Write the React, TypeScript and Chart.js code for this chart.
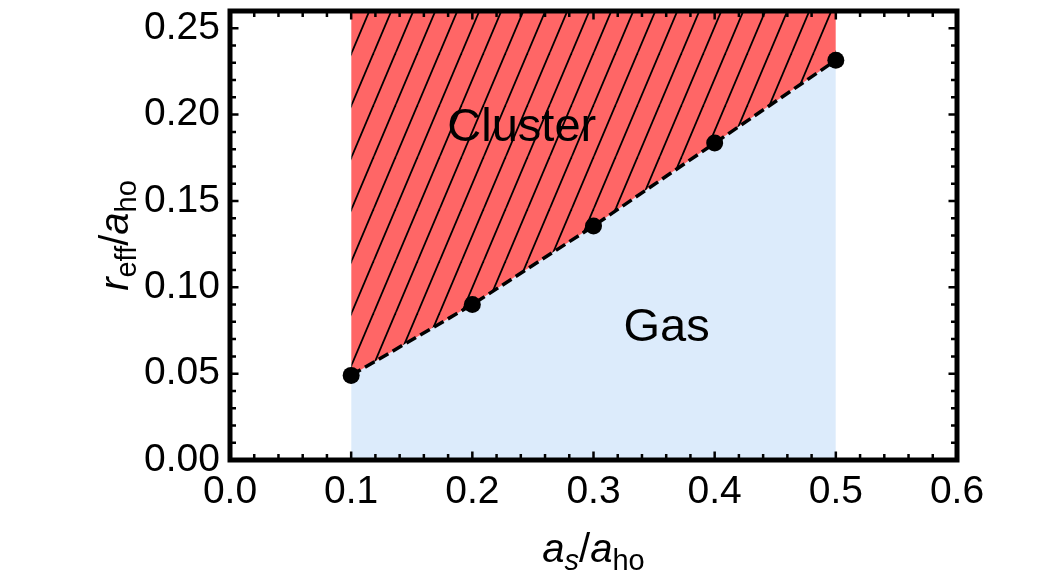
import React, { useEffect, useRef } from 'react';
import { Chart, registerables } from 'chart.js';

Chart.register(...registerables);

// ---- data ----
const AS_VALUES = [0.1, 0.2, 0.3, 0.4, 0.5];
const REFF_VALUES = [0.049, 0.09, 0.1355, 0.1835, 0.2315];
const X_TICKS = [0, 0.1, 0.2, 0.3, 0.4, 0.5, 0.6];
const Y_TICKS = [0, 0.05, 0.1, 0.15, 0.2, 0.25];
const X_MINOR_STEP = 0.02;
const Y_MINOR_STEP = 0.01;
const REGION_LABELS = ['Cluster', 'Gas'];
const REGION_X = [0.2408, 0.3603];
const REGION_Y = [0.1847, 0.0689];

const FONT = "'Liberation Sans', Arial, Helvetica, sans-serif";
const RED = '#FF6666';
const BLUE = '#DCEBFB';

function makeHatch(): CanvasPattern | string {
  const W = 22;
  const H = 52;
  const c = document.createElement('canvas');
  c.width = W;
  c.height = H;
  const g = c.getContext('2d');
  if (!g) return RED;
  g.fillStyle = RED;
  g.fillRect(0, 0, W, H);
  g.strokeStyle = '#000';
  g.lineWidth = 1.8;
  for (const s of [-W, 0, W]) {
    g.beginPath();
    g.moveTo(s, H);
    g.lineTo(s + W, 0);
    g.stroke();
  }
  return g.createPattern(c, 'repeat') || RED;
}

type Seg = { t: string; italic?: boolean; sub?: boolean };

function drawSegs(ctx: CanvasRenderingContext2D, segs: Seg[], cx: number, baseY: number) {
  const main = 40;
  const subSize = 29;
  const fontOf = (s: Seg) => `${s.italic ? 'italic ' : ''}${s.sub ? subSize : main}px ${FONT}`;
  let total = 0;
  const widths = segs.map((s) => {
    ctx.font = fontOf(s);
    const w = ctx.measureText(s.t).width;
    total += w;
    return w;
  });
  let x = cx - total / 2;
  ctx.textAlign = 'left';
  ctx.textBaseline = 'alphabetic';
  ctx.fillStyle = '#000';
  segs.forEach((s, i) => {
    ctx.font = fontOf(s);
    ctx.fillText(s.t, x, s.sub ? baseY + 8 : baseY);
    x += widths[i];
  });
}

const framePlugin = {
  id: 'framePlugin',
  afterDraw(chart: any) {
    const { ctx, chartArea } = chart;
    const xs = chart.scales.x;
    const ys = chart.scales.y;
    const { left, right, top, bottom } = chartArea;
    ctx.save();
    ctx.strokeStyle = '#000';
    // ticks
    ctx.lineWidth = 2.5;
    const xMin = xs.min, xMax = xs.max, yMin = ys.min, yMax = ys.max;
    const nx = Math.round((xMax - xMin) / X_MINOR_STEP);
    for (let i = 0; i <= nx; i++) {
      const v = xMin + i * X_MINOR_STEP;
      const major = i % 5 === 0;
      const len = major ? 8.5 : 6;
      const px = xs.getPixelForValue(v);
      ctx.beginPath();
      ctx.moveTo(px, bottom);
      ctx.lineTo(px, bottom - len);
      ctx.moveTo(px, top);
      ctx.lineTo(px, top + len);
      ctx.stroke();
    }
    const ny = Math.floor((yMax - yMin) / Y_MINOR_STEP + 1e-6);
    for (let i = 0; i <= ny; i++) {
      const v = yMin + i * Y_MINOR_STEP;
      const major = i % 5 === 0;
      const len = major ? 8.5 : 6;
      const py = ys.getPixelForValue(v);
      ctx.beginPath();
      ctx.moveTo(left, py);
      ctx.lineTo(left + len, py);
      ctx.moveTo(right, py);
      ctx.lineTo(right - len, py);
      ctx.stroke();
    }
    // frame
    ctx.lineWidth = 5;
    ctx.strokeRect(left, top, right - left, bottom - top);

    // region labels
    ctx.fillStyle = '#000';
    ctx.font = `47px ${FONT}`;
    ctx.textAlign = 'center';
    ctx.textBaseline = 'alphabetic';
    REGION_LABELS.forEach((lab, i) => {
      ctx.fillText(lab, xs.getPixelForValue(REGION_X[i]), ys.getPixelForValue(REGION_Y[i]));
    });

    // axis titles
    const cx = (left + right) / 2;
    drawSegs(
      ctx,
      [
        { t: 'a', italic: true },
        { t: 's', italic: true, sub: true },
        { t: '/' },
        { t: 'a', italic: true },
        { t: 'ho', sub: true },
      ],
      cx,
      562
    );
    const cy = (top + bottom) / 2;
    ctx.translate(128, cy);
    ctx.rotate(-Math.PI / 2);
    drawSegs(
      ctx,
      [
        { t: 'r', italic: true },
        { t: 'eff', sub: true },
        { t: '/' },
        { t: 'a', italic: true },
        { t: 'ho', sub: true },
      ],
      0,
      0
    );
    ctx.restore();
  },
};

export default function App() {
  const ref = useRef<HTMLCanvasElement | null>(null);
  useEffect(() => {
    if (!ref.current) return;
    const pts = AS_VALUES.map((x, i) => ({ x, y: REFF_VALUES[i] }));
    const chart = new Chart(ref.current, {
      type: 'line',
      data: {
        datasets: [
          {
            label: 'boundary',
            data: pts,
            borderColor: '#000',
            borderWidth: 3.5,
            borderDash: [11, 5],
            pointRadius: 8.5,
            pointBackgroundColor: '#000',
            pointBorderColor: '#000',
            pointBorderWidth: 0,
            fill: false,
            order: 0,
          },
          {
            label: 'Cluster',
            data: pts,
            borderColor: 'rgba(0,0,0,0)',
            borderWidth: 0,
            pointRadius: 0,
            fill: 'end',
            backgroundColor: makeHatch() as any,
            order: 1,
          },
          {
            label: 'Gas',
            data: pts,
            borderColor: 'rgba(0,0,0,0)',
            borderWidth: 0,
            pointRadius: 0,
            fill: 'origin',
            backgroundColor: BLUE,
            order: 2,
          },
        ],
      },
      options: {
        animation: false,
        responsive: true,
        maintainAspectRatio: false,
        layout: { padding: { top: 11, right: 85, left: 0, bottom: 0 } },
        plugins: { legend: { display: false }, tooltip: { enabled: false } },
        scales: {
          x: {
            type: 'linear',
            min: 0,
            max: 0.6,
            afterBuildTicks: (s: any) => {
              s.ticks = X_TICKS.map((v) => ({ value: v }));
            },
            afterFit: (s: any) => {
              s.height = 118;
              s.paddingLeft = 0;
              s.paddingRight = 0;
              s.paddingTop = 0;
              s.paddingBottom = 0;
            },
            grid: { display: false, drawTicks: false },
            border: { display: false },
            ticks: {
              color: '#000',
              font: { family: FONT, size: 39 },
              padding: 9,
              maxRotation: 0,
              autoSkip: false,
              callback: (v: any) => Number(v).toFixed(1),
            },
          },
          y: {
            type: 'linear',
            min: 0,
            max: 0.26,
            afterBuildTicks: (s: any) => {
              s.ticks = Y_TICKS.map((v) => ({ value: v }));
            },
            afterFit: (s: any) => {
              s.width = 230;
              s.paddingLeft = 0;
              s.paddingRight = 0;
              s.paddingTop = 0;
              s.paddingBottom = 0;
            },
            grid: { display: false, drawTicks: false },
            border: { display: false },
            ticks: {
              color: '#000',
              font: { family: FONT, size: 39 },
              padding: 10,
              autoSkip: false,
              callback: (v: any) => Number(v).toFixed(2),
            },
          },
        },
      },
      plugins: [framePlugin],
    });
    return () => chart.destroy();
  }, []);
  return (
    <div style={{ position: 'absolute', left: 0, top: 0, width: 1042, height: 578 }}>
      <canvas ref={ref} />
    </div>
  );
}
